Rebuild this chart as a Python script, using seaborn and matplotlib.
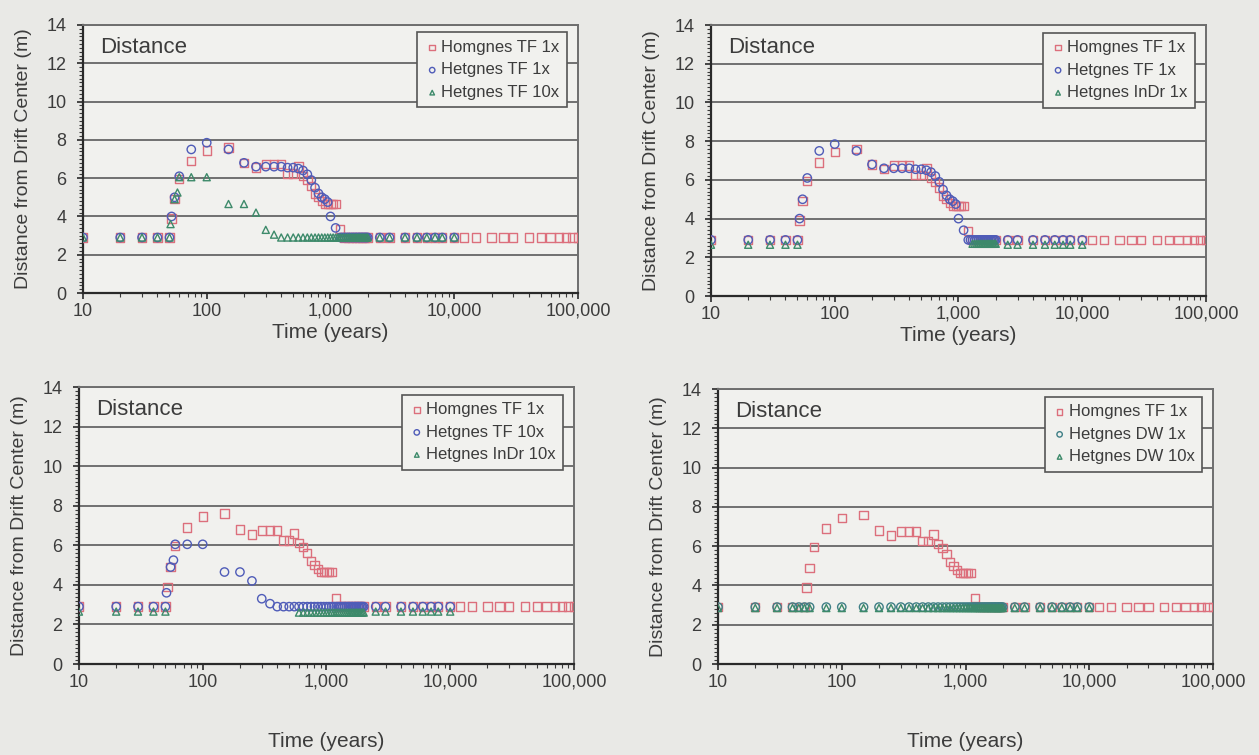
import numpy as np
import pandas as pd
import seaborn as sns
import matplotlib
matplotlib.use("Agg")
import matplotlib.pyplot as plt
from matplotlib.ticker import FixedLocator, FuncFormatter, MultipleLocator, LogLocator, NullFormatter

# ---------------- data ----------------
hom_t = [10, 20, 30, 40, 50, 52, 55, 60, 75, 100, 150, 200, 250, 300, 350, 400, 450, 500,
         550, 600, 650, 700, 750, 800, 850, 900, 950, 1000, 1050, 1100, 1200, 1300, 1400,
         1500, 1600, 1700, 1800, 1900, 2000, 2500, 3000, 4000, 5000, 6000, 7000, 8000,
         10000, 12000, 15000, 20000, 25000, 30000, 40000, 50000, 60000, 70000, 80000,
         90000, 100000]
hom_y = [2.9, 2.9, 2.9, 2.9, 2.9, 3.9, 4.9, 5.95, 6.9, 7.45, 7.6, 6.8, 6.55, 6.75, 6.75, 6.75,
         6.25, 6.25, 6.6, 6.1, 5.9, 5.6, 5.2, 5.0, 4.8, 4.65, 4.65, 4.65, 4.65, 4.65, 3.35, 2.9,
         2.9, 2.9, 2.9, 2.9, 2.9, 2.9, 2.9, 2.9, 2.9, 2.9, 2.9, 2.9, 2.9, 2.9, 2.9, 2.9, 2.9,
         2.9, 2.9, 2.9, 2.9, 2.9, 2.9, 2.9, 2.9, 2.9, 2.9]

tf1_t = [10, 20, 30, 40, 50, 52, 55, 60, 75, 100, 150, 200, 250, 300, 350, 400, 450, 500,
         550, 600, 650, 700, 750, 800, 850, 900, 950, 1000, 1100, 1200, 1250, 1300, 1350,
         1400, 1450, 1500, 1550, 1600, 1650, 1700, 1750, 1800, 1850, 1900, 1950, 2000,
         2500, 3000, 4000, 5000, 6000, 7000, 8000, 10000]
tf1_y = [2.9, 2.9, 2.9, 2.9, 2.9, 4.0, 5.0, 6.1, 7.5, 7.85, 7.5, 6.8, 6.6, 6.6, 6.6, 6.6,
         6.55, 6.55, 6.5, 6.4, 6.2, 5.9, 5.5, 5.2, 5.0, 4.9, 4.75, 4.0, 3.4, 2.9, 2.9, 2.9,
         2.9, 2.9, 2.9, 2.9, 2.9, 2.9, 2.9, 2.9, 2.9, 2.9, 2.9, 2.9, 2.9, 2.9, 2.9, 2.9, 2.9,
         2.9, 2.9, 2.9, 2.9, 2.9]

tf10_t = [10, 20, 30, 40, 50, 51, 55, 58, 60, 75, 100, 150, 200, 250, 300, 350, 400, 450,
          500, 550, 600, 650, 700, 750, 800, 850, 900, 950, 1000, 1050, 1100, 1150, 1200,
          1250, 1300, 1350, 1400, 1450, 1500, 1550, 1600, 1650, 1700, 1750, 1800, 1850,
          1900, 1950, 2000, 2500, 3000, 4000, 5000, 6000, 7000, 8000, 10000]
tf10_y = [2.9, 2.9, 2.9, 2.9, 2.9, 3.6, 4.9, 5.25, 6.05, 6.05, 6.05, 4.65, 4.65, 4.2, 3.3,
          3.05, 2.9, 2.9, 2.9, 2.9, 2.9, 2.9, 2.9, 2.9, 2.9, 2.9, 2.9, 2.9, 2.9, 2.9, 2.9,
          2.9, 2.9, 2.9, 2.9, 2.9, 2.9, 2.9, 2.9, 2.9, 2.9, 2.9, 2.9, 2.9, 2.9, 2.9, 2.9,
          2.9, 2.9, 2.9, 2.9, 2.9, 2.9, 2.9, 2.9, 2.9, 2.9]

indr1_t = [10, 20, 30, 40, 50, 1300, 1350, 1400, 1450, 1500, 1550, 1600, 1650, 1700, 1750,
           1800, 1850, 1900, 1950, 2000, 2500, 3000, 4000, 5000, 6000, 7000, 8000, 10000]
indr1_y = [2.65, 2.65, 2.65, 2.65, 2.65, 2.7, 2.7, 2.7, 2.7, 2.7, 2.7, 2.7, 2.7, 2.7, 2.7,
           2.7, 2.7, 2.7, 2.7, 2.7, 2.65, 2.65, 2.65, 2.65, 2.65, 2.65, 2.65, 2.65]

indr10_t = [10, 20, 30, 40, 50, 600, 650, 700, 750, 800, 850, 900, 950, 1000, 1050, 1100,
            1150, 1200, 1250, 1300, 1350, 1400, 1450, 1500, 1550, 1600, 1650, 1700, 1750,
            1800, 1850, 1900, 1950, 2000, 2500, 3000, 4000, 5000, 6000, 7000, 8000, 10000]
indr10_y = [2.65, 2.65, 2.65, 2.65, 2.65, 2.6, 2.6, 2.6, 2.6, 2.6, 2.6, 2.6, 2.6, 2.6, 2.6,
            2.6, 2.6, 2.6, 2.6, 2.6, 2.6, 2.6, 2.6, 2.6, 2.6, 2.6, 2.6, 2.6, 2.6, 2.6, 2.6,
            2.6, 2.6, 2.6, 2.65, 2.65, 2.65, 2.65, 2.65, 2.65, 2.65, 2.65]

dw_t = [10, 20, 30, 40, 45, 50, 55, 75, 100, 150, 200, 250, 300, 350, 400, 450, 500, 550,
        600, 650, 700, 750, 800, 850, 900, 950, 1000, 1050, 1100, 1150, 1200, 1250, 1300,
        1350, 1400, 1450, 1500, 1550, 1600, 1650, 1700, 1750, 1800, 1850, 1900, 1950, 2000,
        2500, 3000, 4000, 5000, 6000, 7000, 8000, 10000]
dw1_y = [2.9] * len(dw_t)
dw10_y = [2.85] * len(dw_t)

x_ticks = [10, 100, 1000, 10000, 100000]
y_ticks = [0, 2, 4, 6, 8, 10, 12, 14]

RED = "#dc6f7c"
BLUE = "#4f5cb8"
GREEN = "#3d8a6a"
TEAL = "#3f7f86"

panels = [
    ([0.0659, 0.6119, 0.3932, 0.3550],
     [(hom_t, hom_y, "Homgnes TF 1x", "s", RED),
      (tf1_t, tf1_y, "Hetgnes TF 1x", "o", BLUE),
      (tf10_t, tf10_y, "Hetgnes TF 10x", "^", GREEN)]),
    ([0.5647, 0.6079, 0.3932, 0.3589],
     [(hom_t, hom_y, "Homgnes TF 1x", "s", RED),
      (tf1_t, tf1_y, "Hetgnes TF 1x", "o", BLUE),
      (indr1_t, indr1_y, "Hetgnes InDr 1x", "^", GREEN)]),
    ([0.0627, 0.1205, 0.3932, 0.3669],
     [(hom_t, hom_y, "Homgnes TF 1x", "s", RED),
      (tf10_t, tf10_y, "Hetgnes TF 10x", "o", BLUE),
      (indr10_t, indr10_y, "Hetgnes InDr 10x", "^", GREEN)]),
    ([0.5703, 0.1205, 0.3932, 0.3642],
     [(hom_t, hom_y, "Homgnes TF 1x", "s", RED),
      (dw_t, dw1_y, "Hetgnes DW 1x", "o", TEAL),
      (dw_t, dw10_y, "Hetgnes DW 10x", "^", GREEN)]),
]

sns.set_theme(style="white")
plt.rcParams["font.family"] = ["Liberation Sans", "DejaVu Sans"]
TXT = "#3c3c3c"

fig = plt.figure(figsize=(12.59, 7.55), dpi=100)
fig.patch.set_facecolor("#e9e9e6")

for i, (rect, series) in enumerate(panels):
    ax = fig.add_axes(rect)
    ax.set_facecolor("#f1f1ee")
    for t, y, lab, mk, col in series:
        df = pd.DataFrame({"t": t, "y": y})
        size = 36 if mk != "^" else 26
        sns.scatterplot(data=df, x="t", y="y", ax=ax, marker=mk, s=size,
                        facecolor="none", edgecolor=col, linewidth=1.0,
                        label=lab, zorder=3)
    ax.set_xscale("log")
    ax.set_xlim(10, 100000)
    ax.set_ylim(0, 14)
    ax.xaxis.set_major_locator(FixedLocator(x_ticks))
    ax.xaxis.set_major_formatter(FuncFormatter(lambda v, p: f"{int(round(v)):,}"))
    ax.xaxis.set_minor_locator(LogLocator(base=10, subs=np.arange(2, 10)))
    ax.xaxis.set_minor_formatter(NullFormatter())
    ax.yaxis.set_major_locator(FixedLocator(y_ticks))
    ax.yaxis.set_minor_locator(MultipleLocator(0.2))
    ax.yaxis.grid(True, which="major", color="#666666", linewidth=1.3)
    ax.xaxis.grid(False)
    ax.set_axisbelow(True)
    for side in ["top", "right"]:
        ax.spines[side].set_color("#6e6e6e")
        ax.spines[side].set_linewidth(1.4)
    for side in ["left", "bottom"]:
        ax.spines[side].set_color("#2a2a2a")
        ax.spines[side].set_linewidth(1.6)
    ax.tick_params(axis="both", which="major", labelsize=13, labelcolor=TXT,
                   color="#2a2a2a", length=4, width=1.2, direction="out")
    ax.tick_params(axis="y", which="major", pad=8)
    ax.tick_params(axis="x", which="major", pad=3)
    ax.tick_params(axis="both", which="minor", color="#3a3a3a", length=3,
                   width=0.8, direction="out")
    ax.tick_params(left=True, bottom=True, which="both")
    ax.set_ylabel("Distance from Drift Center (m)", fontsize=14, color=TXT, labelpad=10)
    ax.set_xlabel("Time (years)", fontsize=15, color=TXT,
                  labelpad=2 if i < 2 else 30)
    ax.text(0.035, 0.955, "Distance", transform=ax.transAxes, fontsize=16,
            color=TXT, ha="left", va="top")
    leg = ax.legend(loc="upper right", bbox_to_anchor=(0.978, 0.972), fontsize=12,
                    frameon=True, fancybox=False, handletextpad=0.1,
                    handlelength=0.9, borderpad=0.45, labelspacing=0.45,
                    markerscale=0.65, borderaxespad=0)
    leg.get_frame().set_edgecolor("#555555")
    leg.get_frame().set_linewidth(1.2)
    leg.get_frame().set_facecolor("#f1f1ee")
    leg.get_frame().set_alpha(1)
    for txt in leg.get_texts():
        txt.set_color(TXT)

fig.savefig("out.png", dpi=100, facecolor=fig.get_facecolor())
